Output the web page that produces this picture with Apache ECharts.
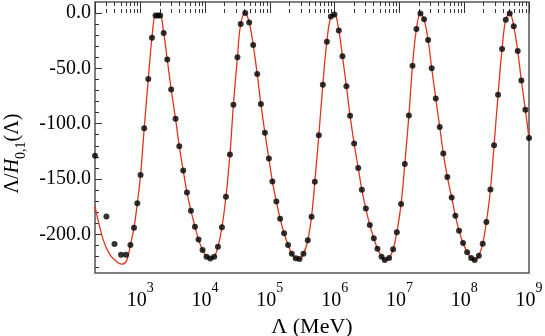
<!DOCTYPE html>
<html>
<head>
<meta charset="utf-8">
<script src="https://cdn.jsdelivr.net/npm/echarts@6/dist/echarts.min.js"></script>
<style>
  html, body { margin: 0; padding: 0; background: #fff; }
  #chart { width: 545px; height: 336px; }
</style>
</head>
<body>
<div id="chart"></div>
<script>
// sampled points (black dots), Λ in MeV
const dotX = [
  200, 300, 400, 505, 600, 705, 800, 900, 1010, 1150,
  1330, 1515, 1720, 1875, 2030, 2300, 2610, 3000, 3500, 4000,
  4600, 5250, 6050, 6980, 7930, 9140, 10530, 12020, 13850, 15800,
  18200, 21000, 24200, 27400, 31600, 35500, 41700, 48000, 55300, 63800,
  72700, 83800, 96600, 109500, 126000, 144000, 166000, 191000, 218000, 251000,
  286000, 330000, 385000, 440000, 494000, 570000, 657000, 758000, 874000, 993000,
  1.16e6, 1.32e6, 1.52e6, 1.73e6, 2.0e6, 2.31e6, 2.63e6, 3.03e6, 3.49e6, 4.02e6,
  4.58e6, 5.3e6, 5.94e6, 6.93e6, 8.0e6, 9.12e6, 1.06e7, 1.21e7, 1.40e7, 1.59e7,
  1.83e7, 2.11e7, 2.40e7, 2.77e7, 3.15e7, 3.64e7, 4.19e7, 4.76e7, 5.49e7, 6.4e7,
  7.3e7, 8.32e7, 9.59e7, 1.11e8, 1.28e8, 1.45e8, 1.68e8, 1.93e8, 2.20e8, 2.54e8,
  2.89e8, 3.33e8, 3.84e8, 4.38e8, 5.04e8, 5.82e8, 6.70e8, 7.62e8, 8.79e8, 1e9
];
const dotY = [
  -129, -184, -208.7, -218.4, -218.4, -209.6, -194, -172, -146.3, -104.2,
  -59.5, -22.3, -2.2, -2.2, -2.2, -18, -42, -69.1, -95.5, -120.5,
  -142.3, -162.2, -178.7, -193.1, -204.8, -214.1, -220.2, -222, -220.2, -211.2,
  -193.7, -166.1, -127.9, -82.9, -40, -9.9, 0, -8.5, -28.8, -55,
  -82.3, -108.1, -131.5, -152.3, -170.3, -185.9, -199.1, -209.6, -217.7, -221.6,
  -222.3, -217.7, -205.4, -184.1, -152.6, -110.5, -64.9, -25.9, -3.1, -1.3,
  -15.7, -39.1, -66.1, -92.8, -118, -140, -159.8, -176.6, -191.6, -203.6,
  -213, -220.2, -223.2, -221.4, -213.5, -198.2, -172.7, -136.4, -92.5, -47.7,
  -14.4, -0.3, -5.7, -24.3, -49.9, -77.2, -103, -127, -148.1, -166.7,
  -183.2, -196.7, -207.8, -216.2, -221.4, -223.2, -219.3, -208.5, -188.9, -159.5,
  -119.5, -73.9, -32.4, -6, -0.3, -12, -34.3, -61, -87.4, -113
];

// red curve: low-energy part differs from the dots, then follows them
const curveHeadX = [200, 268, 341, 431, 515, 615];
const curveHeadY = [-174.5, -205, -218.6, -224.7, -227, -223.8];
const curveJoinX = 650;

// axis ticks
const yLabelTicks = [0, -50, -100, -150, -200];
const yMinorTicks = [-230, -220, -210, -190, -180, -170, -160, -140, -130, -120, -110,
  -90, -80, -70, -60, -40, -30, -20, -10];
const xDecades = [2, 3, 4, 5, 6, 7, 8];
const xMinorMult = [2, 3, 4, 5, 6, 7, 8, 9];

const xMin = 200, xMax = 1e9, yMin = -235, yMax = 10;
const font = 'Liberation Serif';

const dots = dotX.map((x, i) => [x, dotY[i]]);
const curve = curveHeadX.map((x, i) => [x, curveHeadY[i]])
  .concat(dots.filter(d => d[0] > curveJoinX));

const xMinor = [];
xDecades.forEach(d => xMinorMult.forEach(m => {
  const v = m * Math.pow(10, d);
  if (v > xMin && v < xMax) xMinor.push(v);
}));

const tickColor = '#333';

function logAxis(position, len, custom, withLabels) {
  const ax = {
    type: 'log',
    logBase: 10,
    min: xMin,
    max: xMax,
    position: position,
    axisLine: { show: false },
    splitLine: { show: false },
    axisTick: { inside: true, length: len, lineStyle: { color: tickColor, width: 1 } },
    axisLabel: { show: false }
  };
  if (custom) ax.axisTick.customValues = custom;
  if (withLabels) {
    ax.axisLabel = {
      show: true,
      margin: 8,
      formatter: function (v) {
        const e = Math.log10(v);
        if (Math.abs(e - Math.round(e)) > 1e-6) return '';
        return '{b|10}{s|' + Math.round(e) + '}';
      },
      rich: {
        b: { fontFamily: font, fontSize: 20, color: '#000', lineHeight: 30, verticalAlign: 'bottom' },
        s: { fontFamily: font, fontSize: 14, color: '#000', verticalAlign: 'top' }
      }
    };
  }
  return ax;
}

function valAxis(len, custom, withLabels) {
  const ax = {
    type: 'value',
    min: yMin,
    max: yMax,
    position: 'left',
    axisLine: { show: false },
    splitLine: { show: false },
    axisTick: { inside: true, length: len, customValues: custom, lineStyle: { color: tickColor, width: 1 } },
    axisLabel: { show: false }
  };
  if (withLabels) {
    ax.axisLabel = {
      show: true,
      customValues: yLabelTicks,
      margin: 4,
      fontFamily: font,
      fontSize: 20,
      color: '#000',
      formatter: v => v.toFixed(1)
    };
  }
  return ax;
}

const chart = echarts.init(document.getElementById('chart'));

const xMain = logAxis('bottom', 7, null, true);
xMain.name = 'Λ (MeV)';
xMain.nameLocation = 'middle';
xMain.nameGap = 26;
xMain.nameTextStyle = { fontFamily: font, fontSize: 22, color: '#000' };

const yMain = valAxis(7, yLabelTicks, true);
yMain.name = '{a|Λ/}{i|H}{s|0,1}{a|(Λ)}';
yMain.nameLocation = 'middle';
yMain.nameRotate = 90;
yMain.nameGap = 66;
yMain.nameTextStyle = {
  padding: [0, 32, 0, 0],
  rich: {
    a: { fontFamily: font, fontSize: 20, color: '#000', lineHeight: 26, verticalAlign: 'top' },
    i: { fontFamily: font, fontSize: 20, fontStyle: 'italic', color: '#000', lineHeight: 26, verticalAlign: 'top' },
    s: { fontFamily: font, fontSize: 14, color: '#000', verticalAlign: 'bottom' }
  }
};

chart.setOption({
  animation: false,
  backgroundColor: '#fff',
  grid: {
    left: 95, right: 16, top: 2, bottom: 63,
    show: true,
    backgroundColor: 'transparent',
    borderColor: '#555',
    borderWidth: 1.5,
    outerBoundsMode: 'none'
  },
  xAxis: [
    xMain,
    logAxis('bottom', 4, xMinor, false),
    logAxis('top', 7, null, false),
    logAxis('top', 4, xMinor, false)
  ],
  yAxis: [
    yMain,
    valAxis(4, yMinorTicks, false)
  ],
  series: [
    {
      type: 'line',
      data: curve,
      smooth: 0.4,
      showSymbol: false,
      lineStyle: { color: '#e0341c', width: 1.3 },
      z: 2
    },
    {
      type: 'scatter',
      data: dots,
      symbol: 'circle',
      symbolSize: 6,
      itemStyle: { color: '#000' },
      z: 3
    }
  ]
});
</script>
</body>
</html>
